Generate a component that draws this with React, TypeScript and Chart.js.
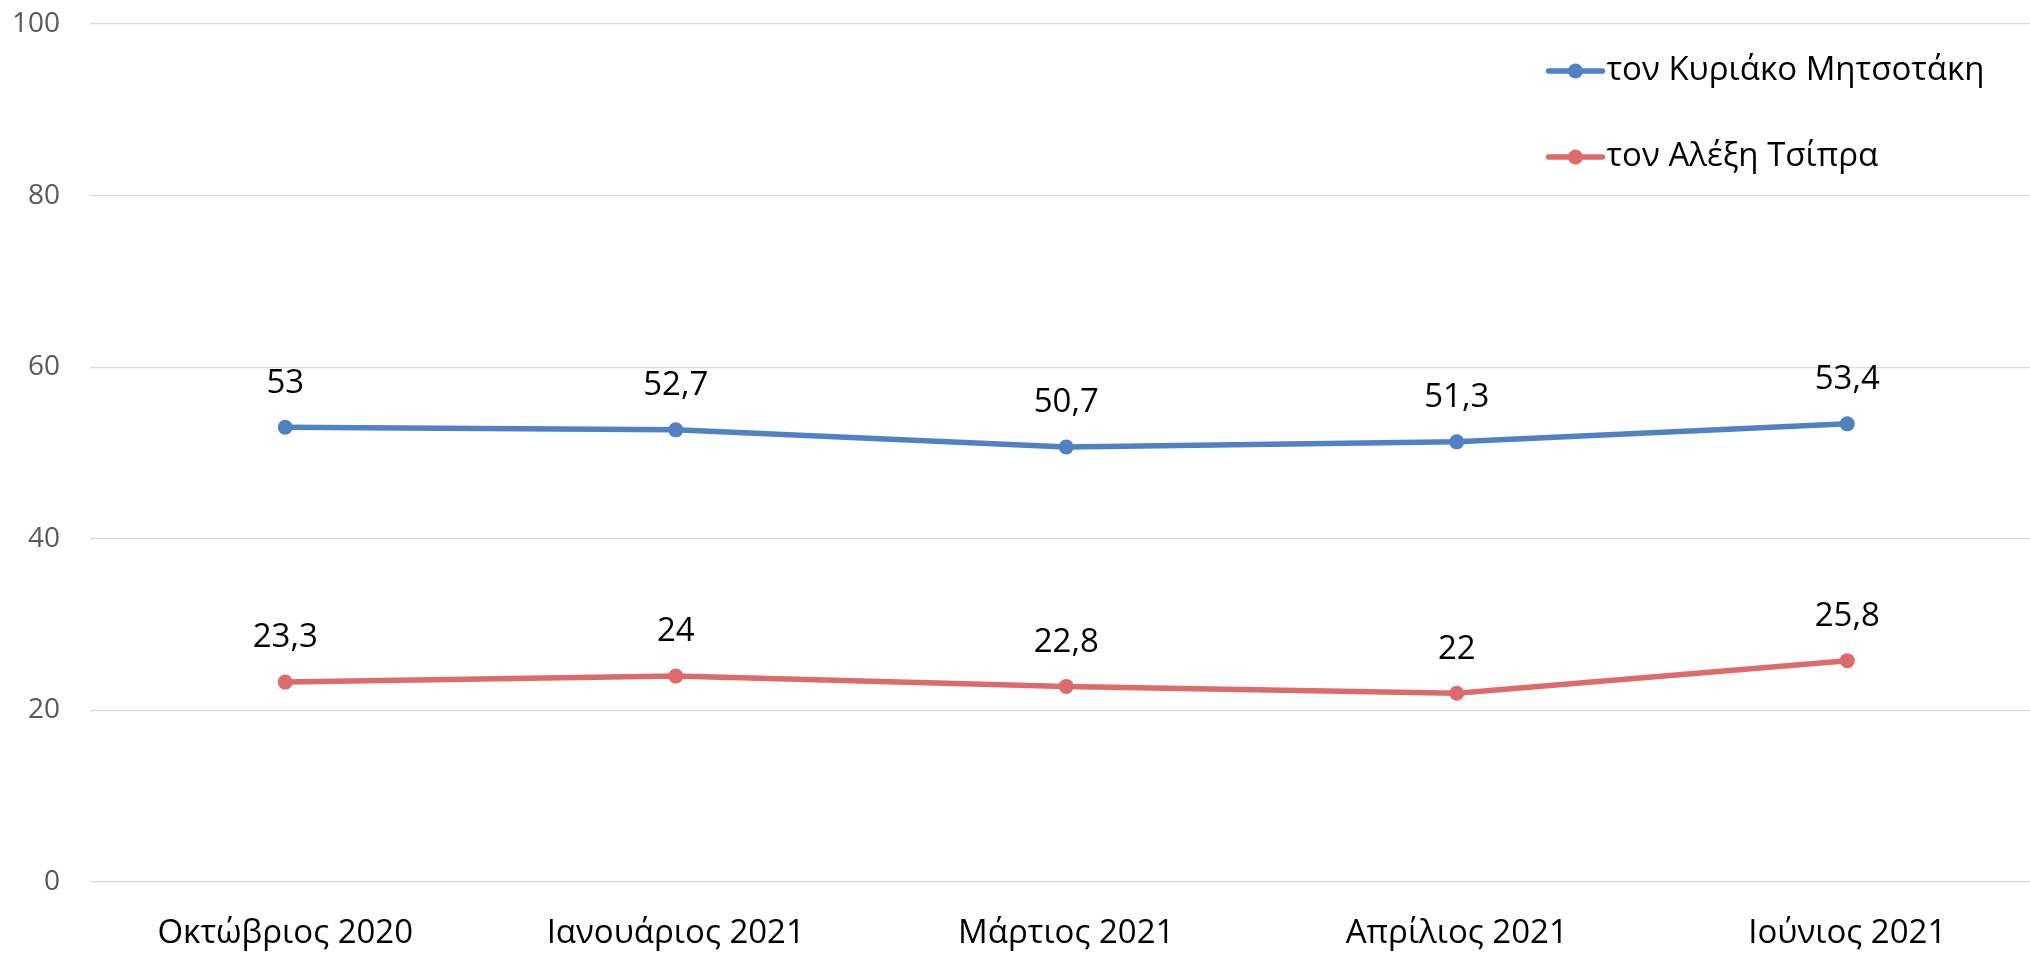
import React, { useEffect, useRef } from "react";
import { Chart, registerables } from "chart.js";

Chart.register(...registerables);

const categories = ["Οκτώβριος 2020", "Ιανουάριος 2021", "Μάρτιος 2021", "Απρίλιος 2021", "Ιούνιος 2021"];
const seriesNames = ["τον Κυριάκο Μητσοτάκη", "τον Αλέξη Τσίπρα"];
const mitsotakis = [53, 52.7, 50.7, 51.3, 53.4];
const tsipras = [23.3, 24, 22.8, 22, 25.8];
const yTicks = { min: 0, max: 100, step: 20 };
const colors = ["#4F81C3", "#DD6B6B"];

const FONT = "'Open Sans', 'Noto Sans', sans-serif";

const fmt = (v: number) => String(v).replace(".", ",");

const dataLabelPlugin = {
  id: "dataLabels",
  afterDatasetsDraw(chart: any) {
    const ctx = chart.ctx;
    ctx.save();
    ctx.font = `33px ${FONT}`;
    ctx.fillStyle = "#000000";
    ctx.textAlign = "center";
    ctx.textBaseline = "middle";
    chart.data.datasets.forEach((ds: any, i: number) => {
      const meta = chart.getDatasetMeta(i);
      meta.data.forEach((pt: any, j: number) => {
        ctx.fillText(fmt(ds.data[j]), pt.x, pt.y - 44);
      });
    });
    ctx.restore();
  },
};

const legendPlugin = {
  id: "customLegend",
  afterDraw(chart: any) {
    const ctx = chart.ctx;
    const area = chart.chartArea;
    const x0 = area.right - 494;
    const y0 = area.top + 47;
    const gap = 86;
    ctx.save();
    chart.data.datasets.forEach((ds: any, i: number) => {
      const y = y0 + i * gap;
      ctx.strokeStyle = ds.borderColor;
      ctx.lineWidth = 5.5;
      ctx.lineCap = "round";
      ctx.beginPath();
      ctx.moveTo(x0, y);
      ctx.lineTo(x0 + 54, y);
      ctx.stroke();
      ctx.fillStyle = ds.borderColor;
      ctx.beginPath();
      ctx.arc(x0 + 27, y, 7.5, 0, Math.PI * 2);
      ctx.fill();
      ctx.fillStyle = "#000000";
      ctx.font = `33px ${FONT}`;
      ctx.textAlign = "left";
      ctx.textBaseline = "middle";
      ctx.fillText(ds.label, x0 + 58, y);
    });
    ctx.restore();
  },
};

export default function App() {
  const ref = useRef<HTMLCanvasElement | null>(null);

  useEffect(() => {
    document.body.style.margin = "0";
    const canvas = ref.current;
    if (!canvas) return;
    const chart = new Chart(canvas, {
      type: "line",
      data: {
        labels: categories,
        datasets: [
          {
            label: seriesNames[0],
            data: mitsotakis,
            borderColor: colors[0],
            backgroundColor: colors[0],
            borderWidth: 5.5,
            pointRadius: 7.5,
            pointBackgroundColor: colors[0],
            pointBorderWidth: 0,
            tension: 0,
          },
          {
            label: seriesNames[1],
            data: tsipras,
            borderColor: colors[1],
            backgroundColor: colors[1],
            borderWidth: 5.5,
            pointRadius: 7.5,
            pointBackgroundColor: colors[1],
            pointBorderWidth: 0,
            tension: 0,
          },
        ],
      },
      options: {
        responsive: false,
        animation: false,
        devicePixelRatio: 1,
        layout: { padding: { top: 24, right: 3, left: 0, bottom: 0 } },
        plugins: {
          legend: { display: false },
          tooltip: { enabled: false },
        },
        scales: {
          x: {
            offset: true,
            grid: { display: false, drawTicks: false },
            border: { display: false },
            ticks: {
              color: "#000000",
              font: { family: FONT, size: 33 },
              padding: 32,
              maxRotation: 0,
              autoSkip: false,
            },
            afterFit(scale: any) {
              scale.height = 73;
            },
          },
          y: {
            min: yTicks.min,
            max: yTicks.max,
            grid: { color: "#D9D9D9", lineWidth: 1.2, drawTicks: false },
            border: { display: false },
            ticks: {
              stepSize: yTicks.step,
              color: "#595959",
              font: { family: FONT, size: 28 },
              padding: 30,
            },
            afterFit(scale: any) {
              scale.width = 90;
              scale.paddingTop = 0;
              scale.paddingBottom = 0;
            },
          },
        },
      },
      plugins: [dataLabelPlugin, legendPlugin],
    });
    return () => chart.destroy();
  }, []);

  return (
    <div style={{ width: 2030, height: 955, overflow: "hidden", background: "#ffffff" }}>
      <canvas ref={ref} width={2050} height={955} style={{ width: 2050, height: 955, display: "block" }} />
    </div>
  );
}
